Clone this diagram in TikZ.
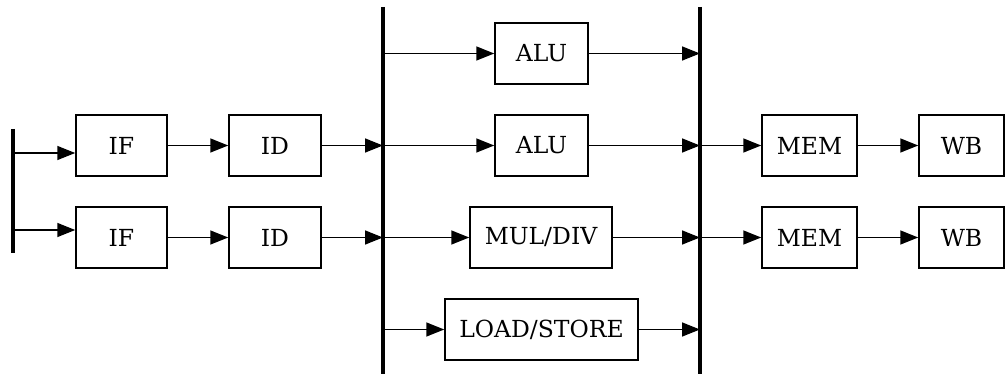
\documentclass[tikz,border=0pt]{standalone}
\usepackage{fontspec}
\setmainfont{DejaVu Serif}
\usetikzlibrary{arrows.meta}
\tikzset{
  stage/.style={draw, line width=1.5pt, minimum height=61pt, inner sep=0pt,
                font=\fontsize{23.5}{28}\selectfont},
  arr/.style={line width=1.5pt, -{Triangle[length=18pt,width=14pt]}},
  bus/.style={line width=3.8pt},
}
\begin{document}
\begin{tikzpicture}[x=1pt,y=-1pt]
\useasboundingbox (0,0) rectangle (1005,374);

% fetch / decode
\node[stage, minimum width=91pt] (IF1) at (121.5,145.5) {IF};
\node[stage, minimum width=92pt] (ID1) at (275,145.5) {ID};
\node[stage, minimum width=91pt] (IF2) at (121.5,237.5) {IF};
\node[stage, minimum width=92pt] (ID2) at (275,237.5) {ID};

% execution units
\node[stage, minimum width=93pt]  (ALU1) at (541.5,53.5) {ALU};
\node[stage, minimum width=93pt]  (ALU2) at (541.5,145.5) {ALU};
\node[stage, minimum width=142pt] (MD)   at (541,237.5) {MUL/DIV};
\node[stage, minimum width=193pt] (LS)   at (541.5,329.5) {LOAD/STORE};

% memory / write back
\node[stage, minimum width=95pt] (MEM1) at (809.5,145.5) {MEM};
\node[stage, minimum width=95pt] (MEM2) at (809.5,237.5) {MEM};
\node[stage, minimum width=85pt] (WB1)  at (961.5,145.5) {WB};
\node[stage, minimum width=85pt] (WB2)  at (961.5,237.5) {WB};

% buses
\coordinate (barT) at (13,129);  \coordinate (barB) at (13,253);
\coordinate (lbT) at (383,7);    \coordinate (lbB) at (383,374);
\coordinate (rbT) at (700,7);    \coordinate (rbB) at (700,374);
\draw[bus] (barT) -- (barB);
\draw[bus] (lbT) -- (lbB);
\draw[bus] (rbT) -- (rbB);

% issue into fetch
\draw[arr] ([yshift=-7.5pt]IF1.west -| barT) -- ([yshift=-7.5pt]IF1.west);
\draw[arr] ([yshift=7.5pt]IF2.west -| barT) -- ([yshift=7.5pt]IF2.west);

\draw[arr] (IF1) -- (ID1);
\draw[arr] (IF2) -- (ID2);
\draw[arr] (ID1.east) -- (ID1.east -| lbT);
\draw[arr] (ID2.east) -- (ID2.east -| lbT);

% dispatch to units
\foreach \u in {ALU1,ALU2,MD,LS}{
  \draw[arr] (\u.west -| lbT) -- (\u.west);
  \draw[arr] (\u.east) -- (\u.east -| rbT);
}

\draw[arr] (MEM1.west -| rbT) -- (MEM1.west);
\draw[arr] (MEM2.west -| rbT) -- (MEM2.west);
\draw[arr] (MEM1) -- (WB1);
\draw[arr] (MEM2) -- (WB2);
\end{tikzpicture}
\end{document}
